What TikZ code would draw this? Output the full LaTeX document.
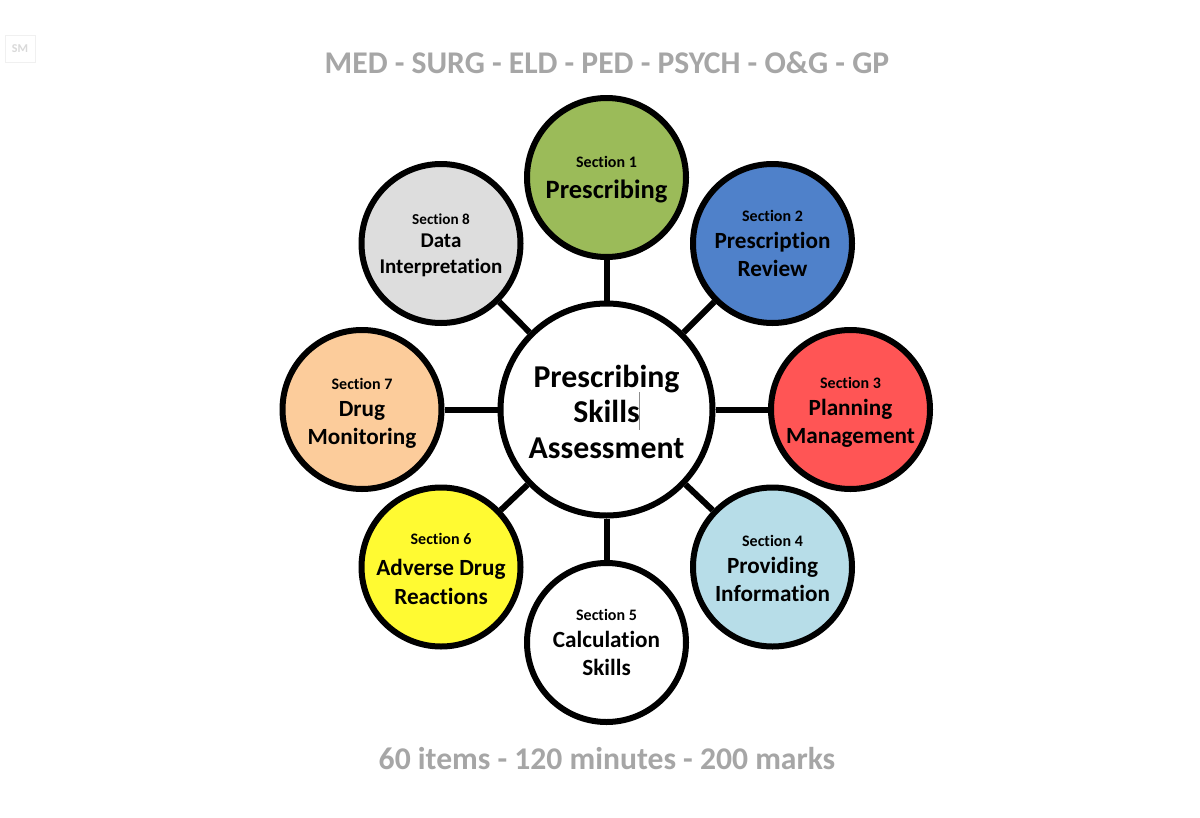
\documentclass[tikz,border=0pt]{standalone}
\usepackage{fontspec}
\setmainfont[Ligatures=NoCommon]{Carlito}
\tikzset{
 px/.style={x=1pt,y=-1pt},
 sec/.style={circle,draw=black,line width=6pt,minimum size=159pt,inner sep=0pt,align=center,font=\bfseries\fontsize{23.2}{28}\selectfont},
 hub/.style={circle,draw=black,line width=6pt,fill=white,minimum size=212pt,inner sep=0pt,align=center,font=\bfseries\fontsize{31.8}{35.5}\selectfont},
 link/.style={line width=6pt,draw=black},
 head/.style={text=black!35,font=\bfseries\fontsize{31.6}{36}\selectfont},
 badge/.style={draw=black!6,line width=.7pt,minimum width=30pt,minimum height=27pt,inner sep=0pt,text=black!15,font=\bfseries\fontsize{12}{14}\selectfont}
}
% #1 = extra height above the first line (moves the block down by half), #2 = gap after the label
\newcommand{\st}[3][16]{\rule{0pt}{#2pt}{\fontsize{#1}{22}\selectfont #3}}
\begin{document}
\begin{tikzpicture}[px]
\useasboundingbox (0,0) rectangle (1200,817);
\fill[white] (0,0) rectangle (1200,817);
\node[badge] (sm) at (20,48.5) {SM};
\node[head] (top) at (607,63) {MED - SURG - ELD - PED - PSYCH - O\&G - GP};
\node[head] (bot) at (607,759) {60 items - 120 minutes - 200 marks};
\node[hub] (c) at (606.5,409.5) {\rule{0pt}{27pt}Prescribing\\Skills\\Assessment};
\node[sec,fill={rgb,255:red,155;green,187;blue,89}] (s1) at (606.5,177.5) {\st{16}{Section 1}\\[3pt]{\fontsize{26.5}{30}\selectfont Prescribing}};
\node[sec,fill={rgb,255:red,79;green,129;blue,202}] (s2) at (772.5,243.5) {\st{12}{Section 2}\\[-1pt]Prescription\\Review};
\node[sec,fill={rgb,255:red,255;green,85;blue,85}] (s3) at (850.5,409.5) {\st{16}{Section 3}\\[-1pt]Planning\\Management};
\node[sec,fill={rgb,255:red,183;green,221;blue,232}] (s4) at (772.5,567) {\st{14}{Section 4}\\[-1pt]Providing\\Information};
\node[sec,fill=white] (s5) at (606.5,642.5) {\st{12}{Section 5}\\[-1pt]Calculation\\Skills};
\node[sec,fill={rgb,255:red,255;green,250;blue,50}] (s6) at (441,567) {\st{15}{Section 6}\\[3pt]Adverse Drug\\[1pt]Reactions};
\node[sec,fill={rgb,255:red,252;green,204;blue,155}] (s7) at (362,409.5) {\st{18}{Section 7}\\[-1pt]Drug\\Monitoring};
\node[sec,fill={rgb,255:red,221;green,221;blue,221},font=\bfseries\fontsize{21}{26}\selectfont] (s8) at (441,243.5) {\st[15.2]{14}{Section 8}\\[-3pt]Data\\Interpretation};
\foreach \i in {1,...,8} \draw[link] (c) -- (s\i);
\draw[black!45,line width=.7pt] (639.3,392) -- (639.3,430);
\end{tikzpicture}
\end{document}
